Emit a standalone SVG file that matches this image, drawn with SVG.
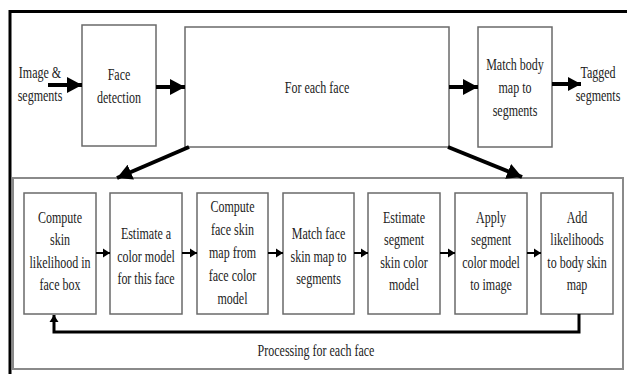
<svg xmlns="http://www.w3.org/2000/svg" width="627" height="374" viewBox="0 0 627 374">
<style>
.box{fill:#fff;stroke:#6a6a6a;stroke-width:1.5}
.frame{fill:none;stroke:#8a8a8a;stroke-width:2}
.t{font-family:"Liberation Serif","Times New Roman",serif;font-size:16px;fill:#222;text-anchor:middle}
.big{fill:none;stroke:#000;stroke-width:4}
.small{fill:none;stroke:#000;stroke-width:2}
.loop{fill:none;stroke:#000;stroke-width:3}
</style>
<defs>
<marker id="hb" markerUnits="userSpaceOnUse" markerWidth="16" markerHeight="16" refX="15" refY="8" orient="auto"><path d="M0,0 L15,8 L0,16 Z" fill="#000"/></marker>
<marker id="hm" markerUnits="userSpaceOnUse" markerWidth="14" markerHeight="14" refX="13" refY="7" orient="auto"><path d="M0,0 L13,7 L0,14 Z" fill="#000"/></marker>
<marker id="hs" markerUnits="userSpaceOnUse" markerWidth="8" markerHeight="10" refX="7" refY="5" orient="auto"><path d="M0,0.5 L7,5 L0,9.5 Z" fill="#000"/></marker>
</defs>
<rect x="0" y="0" width="627" height="374" fill="#fff"/>
<path d="M10,380 L10,11.5 L640,11.5" fill="none" stroke="#000" stroke-width="3"/>
<rect class="frame" x="13" y="178" width="610" height="191"/>

<g id="input">
<g transform="translate(40,0) scale(0.75,1)"><text class="t" x="0" y="78">Image &amp;</text><text class="t" x="0" y="101">segments</text></g>
</g>
<g id="face-detection">
<rect class="box" x="82" y="25" width="74" height="121"/>
<g transform="translate(119,0) scale(0.75,1)"><text class="t" x="0" y="80">Face</text><text class="t" x="0" y="103">detection</text></g>
</g>
<g id="for-each-face">
<rect class="box" x="185" y="27" width="264" height="120"/>
<g transform="translate(317,0) scale(0.75,1)"><text class="t" x="0" y="93">For each face</text></g>
</g>
<g id="match-body">
<rect class="box" x="478" y="27" width="74" height="120"/>
<g transform="translate(515,0) scale(0.75,1)"><text class="t" x="0" y="70">Match body</text><text class="t" x="0" y="93">map to</text><text class="t" x="0" y="116">segments</text></g>
</g>
<g id="output">
<g transform="translate(598,0) scale(0.75,1)"><text class="t" x="0" y="78">Tagged</text><text class="t" x="0" y="101">segments</text></g>
</g>

<g id="b1"><rect class="box" x="24" y="193" width="72" height="121"/>
<g transform="translate(60,0) scale(0.75,1)"><text class="t" x="0" y="223">Compute</text><text class="t" x="0" y="245.5">skin</text><text class="t" x="0" y="268">likelihood in</text><text class="t" x="0" y="290.5">face box</text></g></g>
<g id="b2"><rect class="box" x="110" y="193" width="72" height="121"/>
<g transform="translate(146,0) scale(0.75,1)"><text class="t" x="0" y="239.5">Estimate a</text><text class="t" x="0" y="262">color model</text><text class="t" x="0" y="284.5">for this face</text></g></g>
<g id="b3"><rect class="box" x="197" y="193" width="71" height="121"/>
<g transform="translate(232.5,0) scale(0.75,1)"><text class="t" x="0" y="212">Compute</text><text class="t" x="0" y="235">face skin</text><text class="t" x="0" y="258">map from</text><text class="t" x="0" y="281">face color</text><text class="t" x="0" y="304">model</text></g></g>
<g id="b4"><rect class="box" x="283" y="193" width="71" height="121"/>
<g transform="translate(318.5,0) scale(0.75,1)"><text class="t" x="0" y="239.5">Match face</text><text class="t" x="0" y="262">skin map to</text><text class="t" x="0" y="284.5">segments</text></g></g>
<g id="b5"><rect class="box" x="368" y="193" width="72" height="121"/>
<g transform="translate(404,0) scale(0.75,1)"><text class="t" x="0" y="223">Estimate</text><text class="t" x="0" y="245.5">segment</text><text class="t" x="0" y="268">skin color</text><text class="t" x="0" y="290.5">model</text></g></g>
<g id="b6"><rect class="box" x="455" y="193" width="72" height="121"/>
<g transform="translate(491,0) scale(0.75,1)"><text class="t" x="0" y="223">Apply</text><text class="t" x="0" y="245.5">segment</text><text class="t" x="0" y="268">color model</text><text class="t" x="0" y="290.5">to image</text></g></g>
<g id="b7"><rect class="box" x="541" y="193" width="72" height="121"/>
<g transform="translate(577,0) scale(0.75,1)"><text class="t" x="0" y="223">Add</text><text class="t" x="0" y="245.5">likelihoods</text><text class="t" x="0" y="268">to body skin</text><text class="t" x="0" y="290.5">map</text></g></g>

<g id="loop-label">
<g transform="translate(316,0) scale(0.75,1)"><text class="t" x="0" y="356">Processing for each face</text></g>
</g>

<g id="connectors">
<line class="big" x1="48" y1="85" x2="82" y2="85" marker-end="url(#hb)"/>
<line class="big" x1="156" y1="87" x2="185" y2="87" marker-end="url(#hb)"/>
<line class="big" x1="449" y1="87" x2="478" y2="87" marker-end="url(#hb)"/>
<line class="big" x1="552" y1="84" x2="581" y2="84" marker-end="url(#hm)"/>
<line class="big" x1="189" y1="147" x2="117" y2="178" marker-end="url(#hb)"/>
<line class="big" x1="448" y1="147" x2="522" y2="177" marker-end="url(#hb)"/>
<line class="small" x1="96" y1="253" x2="110" y2="253" marker-end="url(#hs)"/>
<line class="small" x1="182" y1="253" x2="197" y2="253" marker-end="url(#hs)"/>
<line class="small" x1="268" y1="253" x2="283" y2="253" marker-end="url(#hs)"/>
<line class="small" x1="354" y1="253" x2="368" y2="253" marker-end="url(#hs)"/>
<line class="small" x1="440" y1="253" x2="455" y2="253" marker-end="url(#hs)"/>
<line class="small" x1="527" y1="253" x2="541" y2="253" marker-end="url(#hs)"/>
<polyline class="loop" points="579,314 579,332 54,332 54,315" marker-end="url(#hs)"/>
</g>
</svg>
